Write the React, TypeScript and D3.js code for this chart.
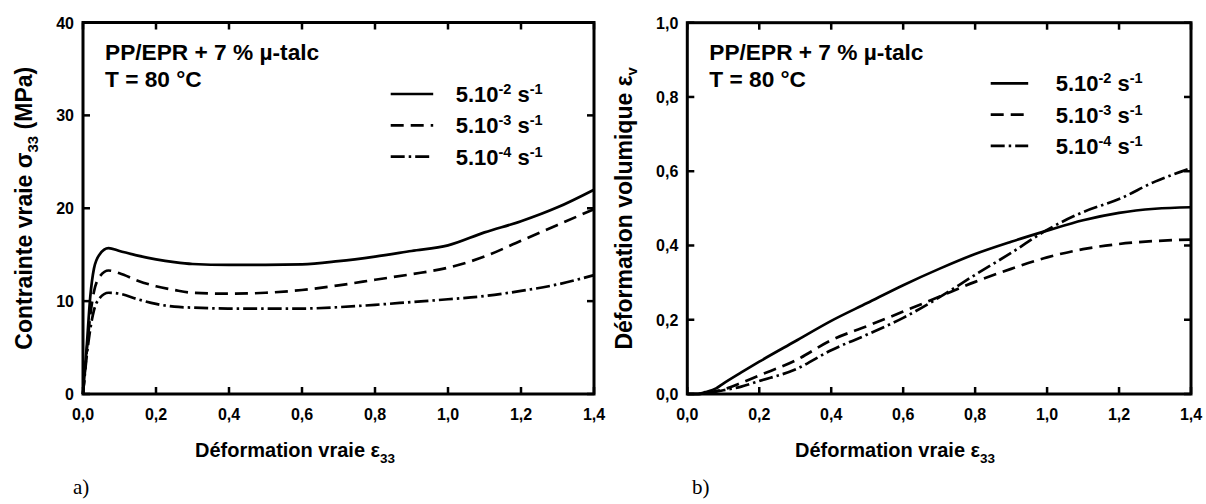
import React from "react";
import * as d3 from "d3";

// ---------- DATA ----------
const rateLabels = ["-2", "-3", "-4"];
const dashStyles = ["none", "13,7", "14,4,2.5,4"];

// Panel a) : true stress vs true strain
const strainA = [0, 0.01, 0.02, 0.03, 0.045, 0.07, 0.1, 0.15, 0.2, 0.25, 0.3, 0.4, 0.5, 0.6, 0.7, 0.8, 0.9, 1.0, 1.1, 1.2, 1.3, 1.4];
const stress5e2 = [0, 5, 10.5, 13.5, 15.0, 15.7, 15.4, 14.9, 14.5, 14.2, 14.0, 13.9, 13.9, 13.95, 14.3, 14.8, 15.4, 16.0, 17.4, 18.6, 20.1, 22.0];
const stress5e3 = [0, 4.5, 8.5, 11, 12.6, 13.3, 13.0, 12.2, 11.6, 11.2, 10.9, 10.8, 10.9, 11.2, 11.7, 12.3, 12.9, 13.6, 14.8, 16.5, 18.2, 19.9];
const stress5e4 = [0, 4, 7, 9, 10.3, 10.9, 10.8, 10.2, 9.7, 9.4, 9.3, 9.2, 9.2, 9.2, 9.35, 9.6, 9.9, 10.2, 10.55, 11.1, 11.8, 12.8];

// Panel b) : volumetric strain vs true strain
const strainB = [0, 0.03, 0.05, 0.08, 0.1, 0.15, 0.2, 0.3, 0.4, 0.5, 0.6, 0.7, 0.8, 0.9, 1.0, 1.1, 1.2, 1.3, 1.4];
const volume5e2 = [0, 0, 0.005, 0.015, 0.028, 0.058, 0.087, 0.142, 0.197, 0.245, 0.293, 0.337, 0.377, 0.41, 0.44, 0.468, 0.488, 0.499, 0.503];
const volume5e3 = [0, 0, 0.002, 0.008, 0.012, 0.03, 0.05, 0.09, 0.145, 0.183, 0.222, 0.262, 0.302, 0.337, 0.368, 0.39, 0.404, 0.412, 0.416];
const volume5e4 = [0, 0, 0.001, 0.006, 0.01, 0.02, 0.035, 0.066, 0.118, 0.16, 0.205, 0.26, 0.321, 0.38, 0.442, 0.49, 0.525, 0.572, 0.608];

const xTicks = [0, 0.2, 0.4, 0.6, 0.8, 1.0, 1.2, 1.4];
const yTicksA = [0, 10, 20, 30, 40];
const yTicksB = [0, 0.2, 0.4, 0.6, 0.8, 1.0];

const FONT = "'Liberation Sans', Arial, Helvetica, sans-serif";

const comma = (v: number) => d3.format(".1f")(v).replace(".", ",");

type PanelProps = {
  left: number; right: number; top: number; bottom: number;
  xs: number[]; series: number[][]; yDomain: [number, number]; yTicks: number[];
  yFmt: (v: number) => string;
  legendX: number; legendLen: number; legendY: number;
  yTitle: React.ReactNode; yTitleX: number;
  xTitleX: number; tag: string; tagX: number;
};

function Panel(p: PanelProps) {
  const x = d3.scaleLinear().domain([0, 1.4]).range([p.left, p.right]);
  const y = d3.scaleLinear().domain(p.yDomain).range([p.bottom, p.top]);
  const line = d3.line<number>()
    .x((_, i) => x(p.xs[i]))
    .y((d) => y(d))
    .curve(d3.curveMonotoneX);
  const tl = 7;
  const yMid = (p.top + p.bottom) / 2;
  return (
    <g>
      {p.series.map((s, i) => (
        <path key={i} d={line(s) || ""} fill="none" stroke="#000" strokeWidth={2.7}
          strokeDasharray={dashStyles[i] === "none" ? undefined : dashStyles[i]} />
      ))}
      <rect x={p.left} y={p.top} width={p.right - p.left} height={p.bottom - p.top}
        fill="none" stroke="#000" strokeWidth={3} />
      {xTicks.map((t) => (
        <g key={"x" + t}>
          <line x1={x(t)} x2={x(t)} y1={p.bottom} y2={p.bottom - tl} stroke="#000" strokeWidth={2.5} />
          <line x1={x(t)} x2={x(t)} y1={p.top} y2={p.top + tl} stroke="#000" strokeWidth={2.5} />
          <text x={x(t)} y={420} textAnchor="middle" fontFamily={FONT} fontWeight="bold" fontSize={16}>{comma(t)}</text>
        </g>
      ))}
      {p.yTicks.map((t) => (
        <g key={"y" + t}>
          <line x1={p.left} x2={p.left + tl} y1={y(t)} y2={y(t)} stroke="#000" strokeWidth={2.5} />
          <line x1={p.right} x2={p.right - tl} y1={y(t)} y2={y(t)} stroke="#000" strokeWidth={2.5} />
          <text x={p.left - 9} y={y(t) + 6} textAnchor="end" fontFamily={FONT} fontWeight="bold" fontSize={16}>{p.yFmt(t)}</text>
        </g>
      ))}
      <text x={p.left + 22} y={60} fontFamily={FONT} fontWeight="bold" fontSize={22.7}>PP/EPR + 7 % µ-talc</text>
      <text x={p.left + 22} y={87} fontFamily={FONT} fontWeight="bold" fontSize={22.7}>T = 80 °C</text>
      {rateLabels.map((r, i) => {
        const ly = p.legendY + i * 31.3;
        return (
          <g key={"l" + i}>
            <line x1={p.legendX} x2={p.legendX + p.legendLen} y1={ly} y2={ly} stroke="#000" strokeWidth={2.7}
              strokeDasharray={dashStyles[i] === "none" ? undefined : dashStyles[i]} />
            <text x={p.legendX + 65} y={ly + 8} fontFamily={FONT} fontWeight="bold" fontSize={22}>
              5.10<tspan fontSize={14.5} dy={-8}>{r}</tspan><tspan dy={8}> s</tspan><tspan fontSize={14.5} dy={-8}>-1</tspan>
            </text>
          </g>
        );
      })}
      <text x={p.xTitleX} y={457} fontFamily={FONT} fontWeight="bold" fontSize={20}>
        Déformation vraie ε<tspan fontSize={13.5} dy={6}>33</tspan>
      </text>
      <text transform={`translate(${p.yTitleX},${yMid}) rotate(-90)`} textAnchor="middle"
        fontFamily={FONT} fontWeight="bold" fontSize={23}>{p.yTitle}</text>
      <text x={p.tagX} y={494} fontFamily="'Liberation Serif', 'Times New Roman', serif" fontSize={21}>{p.tag}</text>
    </g>
  );
}

export default function App() {
  return (
    <svg width={1206} height={504} style={{ position: "absolute", left: 0, top: 0, background: "#fff" }}>
      <rect width={1206} height={504} fill="#fff" />
      <Panel left={83} right={594} top={22.5} bottom={394}
        xs={strainA} series={[stress5e2, stress5e3, stress5e4]} yDomain={[0, 40]} yTicks={yTicksA}
        yFmt={(v) => String(v)}
        legendX={390.7} legendLen={42.5} legendY={94}
        yTitle={<>Contrainte vraie σ<tspan fontSize={15} dy={6}>33</tspan><tspan dy={-6}> (MPa)</tspan></>}
        yTitleX={32} xTitleX={195} tag="a)" tagX={73} />
      <Panel left={687.3} right={1191} top={22.7} bottom={394}
        xs={strainB} series={[volume5e2, volume5e3, volume5e4]} yDomain={[0, 1]} yTicks={yTicksB}
        yFmt={comma}
        legendX={990.7} legendLen={37.5} legendY={83.3}
        yTitle={<>Déformation volumique ε<tspan fontSize={15} dy={5}>v</tspan></>}
        yTitleX={632} xTitleX={795} tag="b)" tagX={692} />
    </svg>
  );
}
